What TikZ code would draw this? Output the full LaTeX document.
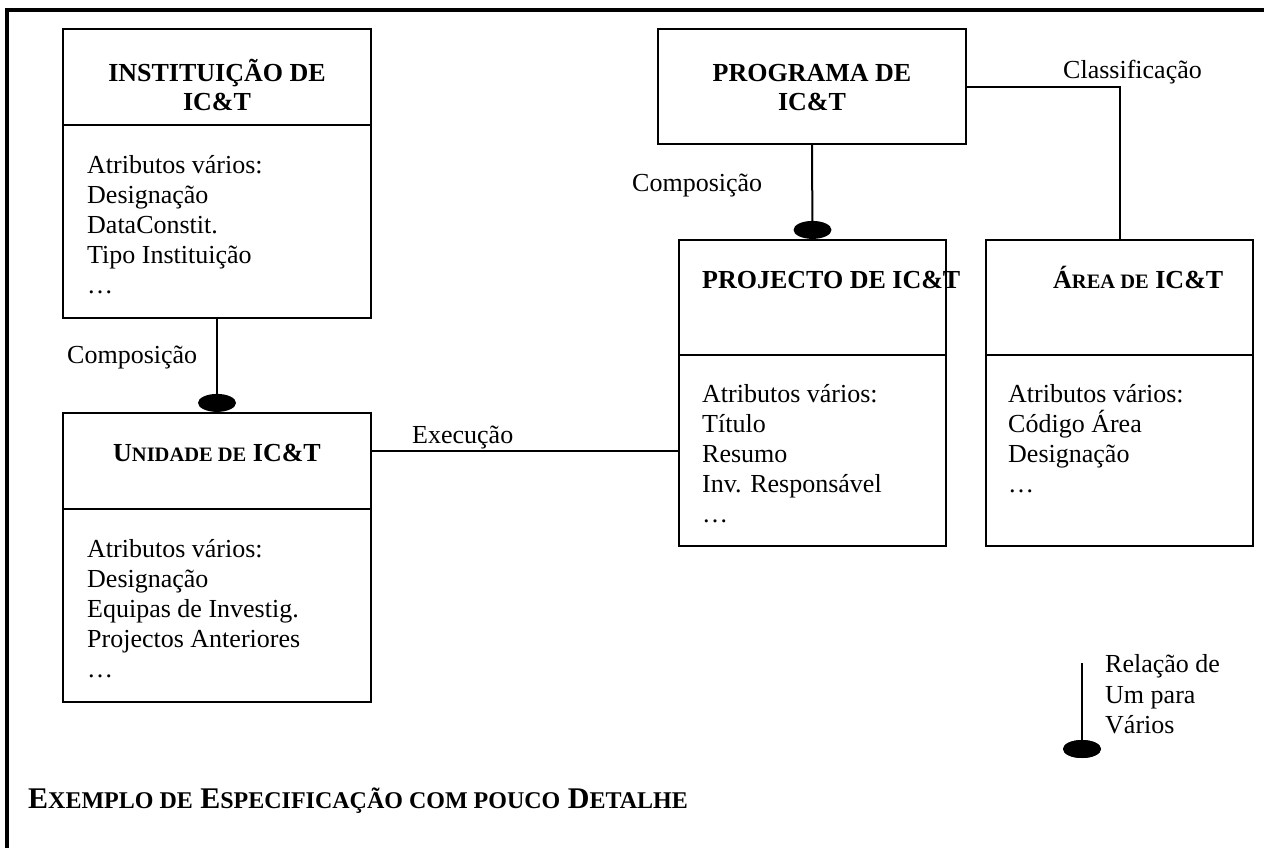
\documentclass[tikz,border=0pt]{standalone}
\usepackage{fontspec}
\setmainfont{Liberation Serif}
\usetikzlibrary{shapes.geometric}
% fake small capitals for the bold headings
\newcommand{\scpart}[1]{{\fontsize{20.5}{24}\selectfont #1}}
\newcommand{\capscpart}[1]{{\fontsize{24}{28}\selectfont #1}}
\begin{document}
\begin{tikzpicture}[x=1pt,y=-1pt,
  entity/.style={draw,rectangle,line width=1.8pt,inner sep=0pt},
  enttitle/.style={font=\fontsize{26}{30}\selectfont\bfseries,inner sep=0pt,anchor=base},
  attr/.style={font=\fontsize{26}{30}\selectfont,inner sep=0pt,anchor=base west},
  link/.style={line width=2pt},
  manyend/.style={ellipse,fill=black,draw=none,minimum width=38pt,minimum height=18pt,inner sep=0pt}]
\useasboundingbox (0,0) rectangle (1264,847);

% page frame (top and left edges)
\draw[line width=3.5pt] (7,870) -- (7,10) -- (1280,10);

% ---- entities ----
\node[entity,minimum width=308pt,minimum height=289pt] (inst) at (217,173.5) {};
\node[entity,minimum width=308pt,minimum height=115pt] (prog) at (812,86.5) {};
\node[entity,minimum width=267pt,minimum height=306pt] (proj) at (812.5,393) {};
\node[entity,minimum width=267pt,minimum height=306pt] (area) at (1119.5,393) {};
\node[entity,minimum width=308pt,minimum height=289pt] (unid) at (217,557.5) {};

% compartment dividers
\draw[link] (inst.west |- 0,125) -- (inst.east |- 0,125);
\draw[link] (proj.west |- 0,355) -- (proj.east |- 0,355);
\draw[link] (area.west |- 0,355) -- (area.east |- 0,355);
\draw[link] (unid.west |- 0,509) -- (unid.east |- 0,509);

% titles
\node[enttitle] (inst-t1) at (217,81) {INSTITUIÇÃO DE};
\node[enttitle] (inst-t2) at (217,110) {IC\&T};
\node[enttitle] (prog-t1) at (812,81) {PROGRAMA DE};
\node[enttitle] (prog-t2) at (812,110) {IC\&T};
\node[enttitle,anchor=base west] (proj-t) at (702,288) {PROJECTO DE IC\&T};
\node[enttitle,anchor=base west] (area-t) at (1053,288) {Á\scpart{REA DE} IC\&T};
\node[enttitle] (unid-t) at (217,461) {U\scpart{NIDADE DE} IC\&T};

% attribute lists
\foreach \t [count=\k from 0] in {Atributos vários:,Designação,DataConstit.,Tipo Instituição,…}
  \node[attr] (inst-a\k) at (87,{173+30*\k}) {\t};
\foreach \t [count=\k from 0] in {Atributos vários:,Designação,Equipas de Investig.,Projectos Anteriores,…}
  \node[attr] (unid-a\k) at (87,{557+30*\k}) {\t};
\foreach \t [count=\k from 0] in {Atributos vários:,Título,Resumo,Inv. Responsável,…}
  \node[attr] (proj-a\k) at (702,{402+30*\k}) {\t};
\foreach \t [count=\k from 0] in {Atributos vários:,Código Área,Designação,…}
  \node[attr] (area-a\k) at (1008,{402+30*\k}) {\t};

% ---- relationships ----
\draw[link] (inst.south) -- (unid.north);
\node[manyend,anchor=south] (inst-unid-end) at (unid.north) {};
\node[attr] (comp1) at (67,363) {Composição};

\draw[link] (prog.south) -- (proj.north);
\node[manyend,anchor=south] (prog-proj-end) at (proj.north) {};
\node[attr] (comp2) at (632,191) {Composição};

\draw[link] (prog.east) -| (area.north);
\node[attr] (classif) at (1063,78) {Classificação};

\path (unid.north east) ++(0,39) coordinate (exec-a);
\draw[link] (exec-a) -- (exec-a -| proj.west);
\node[attr] (exec) at (412,443) {Execução};

% ---- legend ----
\coordinate (leg-top) at (1082,663);
\node[manyend] (leg-end) at (1082,749) {};
\draw[link] (leg-top) -- (leg-end.center);
\node[manyend] at (leg-end.center) {};
\node[attr] (leg-1) at (1105,672) {Relação de};
\node[attr] (leg-2) at (1105,703) {Um para};
\node[attr] (leg-3) at (1105,733) {Vários};

% caption
\node[attr,font=\fontsize{30}{34}\selectfont\bfseries] (caption) at (28,808)
  {E\capscpart{XEMPLO DE} E\capscpart{SPECIFICAÇÃO COM POUCO} D\capscpart{ETALHE}};
\end{tikzpicture}
\end{document}
